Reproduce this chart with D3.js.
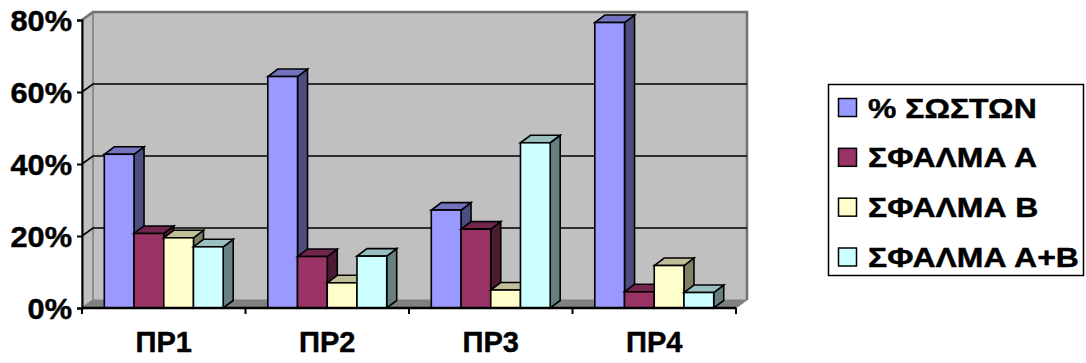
<!DOCTYPE html>
<html>
<head>
<meta charset="utf-8">
<script src="https://cdn.jsdelivr.net/npm/d3@7"></script>
<style>
  html, body { margin: 0; padding: 0; background: #fff; }
  svg { display: block; }
  text { font-family: "Liberation Sans", Arial, sans-serif; font-weight: bold; fill: #000; stroke: #000; stroke-width: 0.45px; }
</style>
</head>
<body>
<svg id="chart" width="1086" height="363"></svg>
<script>
// Categories and series (shares of answers per problem)
const categories = ["ΠΡ1", "ΠΡ2", "ΠΡ3", "ΠΡ4"];
const seriesNames = ["% ΣΩΣΤΩΝ", "ΣΦΑΛΜΑ Α", "ΣΦΑΛΜΑ Β", "ΣΦΑΛΜΑ Α+Β"];
const correct = [0.427, 0.643, 0.272, 0.793];
const errorA  = [0.207, 0.143, 0.219, 0.045];
const errorB  = [0.195, 0.070, 0.050, 0.118];
const errorAB = [0.170, 0.144, 0.459, 0.043];
const yTicks = [0, 0.2, 0.4, 0.6, 0.8];
const seriesColors = ["#9999FF", "#993366", "#FFFFCC", "#CCFFFF"];

const seriesValues = [correct, errorA, errorB, errorAB];

const svg = d3.select("#chart");

// Plot frame (front plane) and 3D depth offset of the back wall
const plotLeft = 82, plotRight = 736, plotBottom = 308, plotTop = 20;
const depth = { dx: 11, dy: -8 };
const barDepth = { dx: 10, dy: -7.5 };

const x0 = d3.scaleBand().domain(categories).range([plotLeft, plotRight]).paddingInner(0).paddingOuter(0);
const x1 = d3.scaleBand().domain(d3.range(seriesNames.length)).range([0, x0.bandwidth()])
  .paddingInner(0).paddingOuter(0.75);
const y = d3.scaleLinear().domain([0, 0.8]).range([plotBottom, plotTop]);

const shade = (c, k) => { const r = d3.rgb(c); return d3.rgb(r.r * k, r.g * k, r.b * k).formatHex(); };
const poly = pts => "M" + pts.map(p => p.join(",")).join("L") + "Z";

// Walls and floor
const wall = svg.append("g");
const bx0 = plotLeft + depth.dx, bx1 = plotRight + depth.dx;
// back wall
wall.append("rect")
  .attr("x", bx0).attr("y", y(0.8) + depth.dy)
  .attr("width", bx1 - bx0).attr("height", y(0) - y(0.8))
  .attr("fill", "#C0C0C0");
// left side wall
wall.append("path")
  .attr("d", poly([[plotLeft, y(0.8)], [bx0, y(0.8) + depth.dy], [bx0, y(0) + depth.dy], [plotLeft, y(0)]]))
  .attr("fill", "#C0C0C0").attr("stroke", "#808080").attr("stroke-width", 1.5);
// floor
wall.append("path")
  .attr("d", poly([[plotLeft, y(0)], [bx0, y(0) + depth.dy], [bx1, y(0) + depth.dy], [plotRight, y(0)]]))
  .attr("fill", "#808080").attr("stroke", "#808080").attr("stroke-width", 1);
// wall outlines
wall.append("path")
  .attr("d", `M${plotLeft},${y(0.8)}L${bx0},${y(0.8) + depth.dy}L${bx1},${y(0.8) + depth.dy}L${bx1},${y(0) + depth.dy}`)
  .attr("fill", "none").attr("stroke", "#707070").attr("stroke-width", 2.5);
wall.append("line")
  .attr("x1", bx0).attr("x2", bx0).attr("y1", y(0.8) + depth.dy).attr("y2", y(0) + depth.dy)
  .attr("stroke", "#8a8a8a").attr("stroke-width", 1);

// Gridlines on back wall with their diagonal runs on the side wall
const grid = svg.append("g");
yTicks.filter(t => t > 0 && t < 0.8).forEach(t => {
  grid.append("path")
    .attr("d", `M${plotLeft},${y(t)}L${bx0},${y(t) + depth.dy}L${bx1},${y(t) + depth.dy}`)
    .attr("fill", "none").attr("stroke", "#000").attr("stroke-width", 1.6);
});

// Bars: front face, top face, right side face
const bars = svg.append("g");
categories.forEach((cat, ci) => {
  seriesValues.forEach((vals, si) => {
    const v = vals[ci];
    const xa = x0(cat) + x1(si), w = x1.bandwidth();
    const yv = y(v), yb = y(0);
    const { dx, dy } = barDepth;
    const col = seriesColors[si];
    const g = bars.append("g").attr("stroke", "#000").attr("stroke-width", 1.6).attr("stroke-linejoin", "miter");
    g.append("path").attr("d", poly([[xa + w, yv], [xa + w + dx, yv + dy], [xa + w + dx, yb + dy], [xa + w, yb]]))
      .attr("fill", shade(col, 0.5));
    g.append("path").attr("d", poly([[xa, yv], [xa + dx, yv + dy], [xa + w + dx, yv + dy], [xa + w, yv]]))
      .attr("fill", shade(col, 0.75));
    g.append("rect").attr("x", xa).attr("y", yv).attr("width", w).attr("height", yb - yv)
      .attr("fill", col);
  });
});

// Value axis
const yAxis = svg.append("g").attr("transform", `translate(${plotLeft},0)`)
  .call(d3.axisLeft(y).tickValues(yTicks).tickFormat(d3.format(".0%")).tickSize(5).tickPadding(0));
yAxis.select(".domain").attr("stroke", "#000").attr("stroke-width", 2);
yAxis.selectAll(".tick line").attr("stroke", "#000").attr("stroke-width", 2);
yAxis.selectAll(".tick text")
  .attr("x", null).attr("dy", null)
  .attr("font-size", 29).attr("font-weight", "bold")
  .attr("font-family", "Liberation Sans, Arial, sans-serif").attr("fill", "#000")
  .attr("transform", "translate(-10,10.5) scale(1.06,1)");

// Category axis: boundary ticks and centered labels
const xAxis = svg.append("g");
xAxis.append("line").attr("x1", plotLeft).attr("x2", plotRight).attr("y1", y(0)).attr("y2", y(0))
  .attr("stroke", "#000").attr("stroke-width", 2.4);
categories.concat([null]).forEach(cat => {
  const xp = cat === null ? plotRight : x0(cat);
  xAxis.append("line").attr("x1", xp).attr("x2", xp).attr("y1", y(0)).attr("y2", y(0) + 6)
    .attr("stroke", "#000").attr("stroke-width", 2);
});
xAxis.selectAll("text.cat").data(categories).join("text").attr("class", "cat")
  .attr("x", d => x0(d) + x0.bandwidth() / 2).attr("y", 352)
  .attr("text-anchor", "middle").attr("font-size", 29).text(d => d);

// Legend
const legend = svg.append("g");
legend.append("rect").attr("x", 828.5).attr("y", 84.5).attr("width", 255).attr("height", 191)
  .attr("fill", "#fff").attr("stroke", "#000").attr("stroke-width", 1.5);
const legY = d3.scalePoint().domain(seriesNames).range([107.5, 257]);
seriesNames.forEach((name, i) => {
  legend.append("rect").attr("x", 838.5).attr("y", legY(name) - 9).attr("width", 18).attr("height", 18)
    .attr("fill", seriesColors[i]).attr("stroke", "#000").attr("stroke-width", 1.5);
  legend.append("text")
    .attr("transform", `translate(868,${legY(name) + 10}) scale(1.14,1)`)
    .attr("font-size", 28).text(name);
});
</script>
</body>
</html>
